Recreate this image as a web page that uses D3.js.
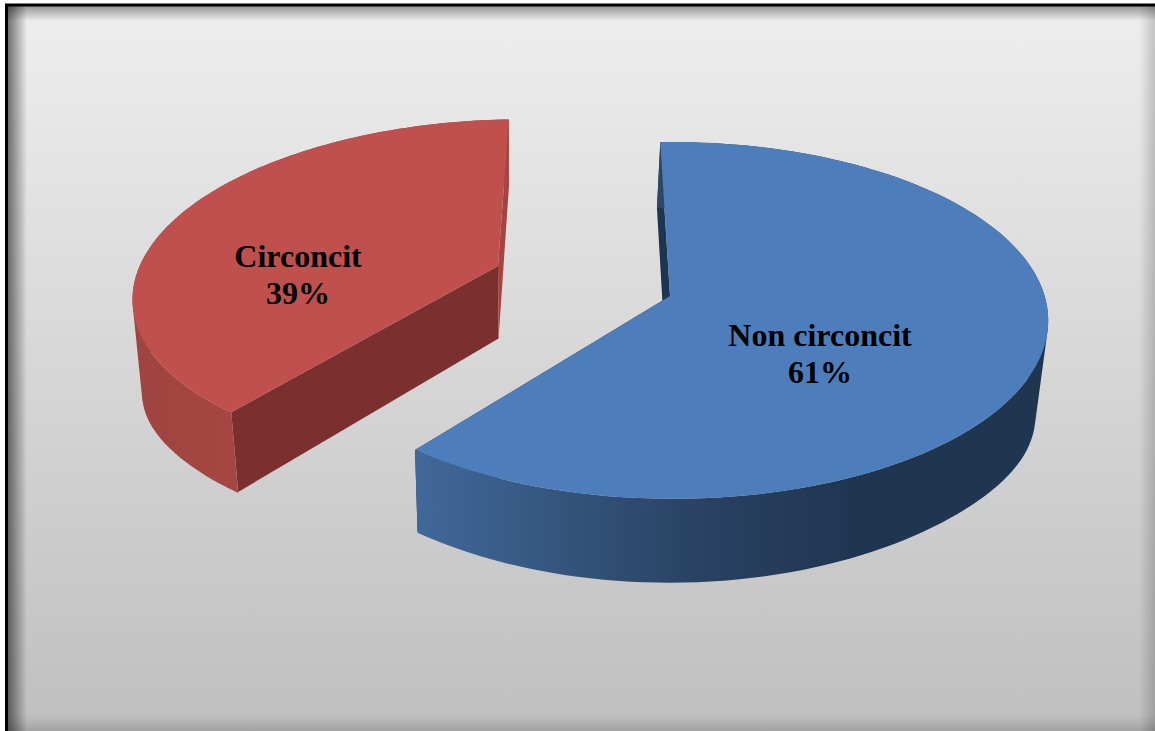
<!DOCTYPE html>
<html>
<head>
<meta charset="utf-8">
<script src="https://cdnjs.cloudflare.com/ajax/libs/d3/7.8.5/d3.min.js"></script>
<style>
  html, body { margin: 0; padding: 0; background: #fff; }
  svg { display: block; }
</style>
</head>
<body>
<div id="chart"></div>
<script>
var categories = ["Non circoncit", "Circoncit"];
var values = [61, 39];
var percentLabels = ["61%", "39%"];

var width = 1155;
var height = 731;

var svg = d3.select("#chart").append("svg")
    .attr("width", width)
    .attr("height", height);

var defs = svg.append("defs");

// chart area background
var bg = defs.append("linearGradient").attr("id", "bg")
    .attr("x1", 0).attr("y1", 0).attr("x2", 0).attr("y2", 1);
bg.append("stop").attr("offset", 0).attr("stop-color", "#eeeeee");
bg.append("stop").attr("offset", 1).attr("stop-color", "#bfbfbf");

// soft dark shadow on the inner edges
function edgeGradient(id, x1, y1, x2, y2, opacity) {
    var g = defs.append("linearGradient").attr("id", id)
        .attr("x1", x1).attr("y1", y1).attr("x2", x2).attr("y2", y2);
    g.append("stop").attr("offset", 0).attr("stop-color", "#000").attr("stop-opacity", opacity);
    g.append("stop").attr("offset", 1).attr("stop-color", "#000").attr("stop-opacity", 0);
}
edgeGradient("edgeLeft", 0, 0, 1, 0, 0.55);
edgeGradient("edgeTop", 0, 0, 0, 1, 0.4);
edgeGradient("edgeRight", 1, 0, 0, 0, 0.18);
edgeGradient("edgeBottom", 0, 1, 0, 0, 0.15);

var blueWall = defs.append("linearGradient").attr("id", "blueWall")
    .attr("gradientUnits", "userSpaceOnUse")
    .attr("x1", 418).attr("y1", 0).attr("x2", 860).attr("y2", 0);
blueWall.append("stop").attr("offset", 0).attr("stop-color", "#41689a");
blueWall.append("stop").attr("offset", 0.6).attr("stop-color", "#2a4464");
blueWall.append("stop").attr("offset", 1).attr("stop-color", "#1f3550");

var redWall = defs.append("linearGradient").attr("id", "redWall")
    .attr("gradientUnits", "userSpaceOnUse")
    .attr("x1", 135).attr("y1", 0).attr("x2", 240).attr("y2", 0);
redWall.append("stop").attr("offset", 0).attr("stop-color", "#9f4440");
redWall.append("stop").attr("offset", 1).attr("stop-color", "#a54642");

svg.append("rect").attr("x", 7).attr("y", 5).attr("width", width - 7).attr("height", height - 5)
    .attr("fill", "url(#bg)");
svg.append("rect").attr("x", 7).attr("y", 5).attr("width", 20).attr("height", height - 5)
    .attr("fill", "url(#edgeLeft)");
svg.append("rect").attr("x", 7).attr("y", 5).attr("width", width - 7).attr("height", 16)
    .attr("fill", "url(#edgeTop)");
svg.append("rect").attr("x", width - 16).attr("y", 5).attr("width", 16).attr("height", height - 5)
    .attr("fill", "url(#edgeRight)");
svg.append("rect").attr("x", 7).attr("y", height - 16).attr("width", width - 7).attr("height", 16)
    .attr("fill", "url(#edgeBottom)");
svg.append("path")
    .attr("d", d3.line()([[6.5, height], [6.5, 5], [width, 5]]))
    .attr("fill", "none")
    .attr("stroke", "#000")
    .attr("stroke-width", 3);

// perspective of the pie disc
var view = {x0: 670, y0: 296, b: 372, a: 175, k: 0.137, m: 0.007};
var explode = {du: -0.475, dv: -0.1755};

function project(u, v) {
    var w = 1 - view.k * v - view.m * u;
    return [view.x0 + view.b * u / w, view.y0 + view.a * v / w];
}

// lower face of the slice, seen through the same camera
function lower(p) {
    return [0.976 * p[0] + 12.5, 1.05 * p[1] + 59];
}

function rim(angle, off) {
    return project(Math.sin(angle) + off.du, -Math.cos(angle) + off.dv);
}

var pie = d3.pie().sort(null)
    .startAngle(-1.7 * Math.PI / 180)
    .endAngle(-1.7 * Math.PI / 180 + 2 * Math.PI);
var arcs = pie(values);

var noOffset = {du: 0, dv: 0};
var line = d3.line();

function arcAngles(a0, a1) {
    return d3.range(0, 121).map(function(i) {
        return a0 + (a1 - a0) * i / 120;
    });
}

function drawSlice(d, off, colors) {
    var apex = project(off.du, off.dv);
    var angles = arcAngles(d.startAngle, d.endAngle);
    var pts = angles.map(function(a) { return rim(a, off); });
    // the wall's lower edge sags a little towards the sides of the disc
    var lowerPts = angles.map(function(a) {
        var p = lower(rim(a, off));
        return [p[0], p[1] + 20 * Math.pow(Math.sin(a), 6)];
    });
    var first = pts[0];
    var last = pts[pts.length - 1];
    var g = svg.append("g");

    // cut faces
    g.append("path")
        .attr("d", line([first, lower(first), lower(apex), apex]) + "Z")
        .attr("fill", colors.face1);
    g.append("path")
        .attr("d", line([last, lower(last), lower(apex), apex]) + "Z")
        .attr("fill", colors.face2);

    // outer wall, one hull per rim step so the silhouette stays closed at the sides
    var wall = d3.range(pts.length - 1).map(function(i) {
        var hull = d3.polygonHull([pts[i], pts[i + 1], lowerPts[i + 1], lowerPts[i]]);
        return hull ? line(hull) + "Z" : "";
    }).join("");
    g.append("path")
        .attr("d", wall)
        .attr("fill", colors.wall);

    // top
    g.append("path")
        .attr("d", line([apex].concat(pts)) + "Z")
        .attr("fill", colors.top);
}

drawSlice(arcs[0], noOffset, {face1: "#1e3550", face2: "#1e3550", wall: "url(#blueWall)", top: "#4d7ebb"});
drawSlice(arcs[1], explode, {face1: "#7a302e", face2: "#a34541", wall: "url(#redWall)", top: "#bf504d"});

// data labels
var labelSpots = [[820, 346], [298, 267]];
categories.forEach(function(c, i) {
    var t = svg.append("text")
        .attr("x", labelSpots[i][0])
        .attr("y", labelSpots[i][1])
        .attr("text-anchor", "middle")
        .attr("font-family", "'Liberation Serif', serif")
        .attr("font-weight", "bold")
        .attr("font-size", 32)
        .attr("fill", "#000");
    t.append("tspan").attr("x", labelSpots[i][0]).text(c);
    t.append("tspan").attr("x", labelSpots[i][0]).attr("dy", 37).text(percentLabels[i]);
});
</script>
</body>
</html>
